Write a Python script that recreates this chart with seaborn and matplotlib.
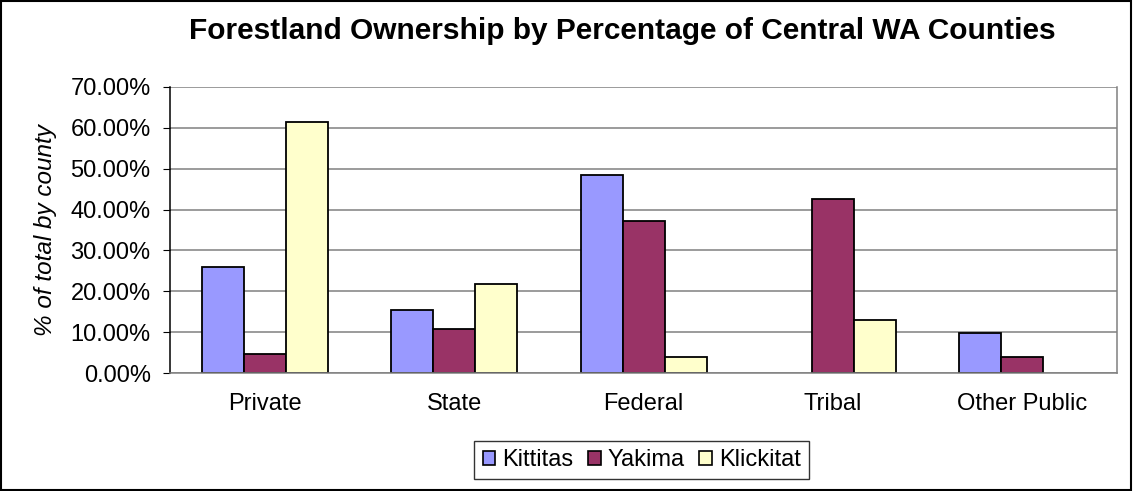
import matplotlib
matplotlib.use("Agg")
import matplotlib.pyplot as plt
import matplotlib.patches as mpatches
from matplotlib.ticker import FuncFormatter, FixedLocator
import seaborn as sns
import pandas as pd

# data (percent of county forestland)
categories = ["Private", "State", "Federal", "Tribal", "Other Public"]
counties = ["Kittitas", "Yakima", "Klickitat"]
kittitas = [25.9, 15.4, 48.5, 0.0, 9.9]
yakima = [4.8, 10.8, 37.3, 42.7, 4.0]
klickitat = [61.4, 21.8, 4.0, 13.1, 0.0]
colors = {"Kittitas": "#9999FF", "Yakima": "#993366", "Klickitat": "#FFFFCC"}

df = pd.DataFrame({
    "category": categories * 3,
    "county": [c for c in counties for _ in categories],
    "pct": kittitas + yakima + klickitat,
})

sns.set_style("white")
plt.rcParams["font.family"] = ["Liberation Sans", "DejaVu Sans"]
plt.rcParams["text.color"] = "black"
plt.rcParams["xtick.color"] = "black"
plt.rcParams["ytick.color"] = "black"
plt.rcParams["axes.labelcolor"] = "black"

fig = plt.figure(figsize=(11.34, 4.91), dpi=100)
ax = fig.add_axes([0.150, 0.240, 0.835, 0.583])

sns.barplot(data=df, x="category", y="pct", hue="county", order=categories,
            hue_order=counties, palette=colors, saturation=1, width=0.665,
            edgecolor="black", linewidth=1.3, errorbar=None, ax=ax)

# hide the outline of empty bars
for p in ax.patches:
    if p.get_height() == 0:
        p.set_linewidth(0)

ax.set_ylim(0, 70)
ax.set_xlim(-0.5, len(categories) - 0.5)
ax.set_yticks(range(0, 71, 10))
ax.yaxis.set_major_formatter(FuncFormatter(lambda v, p: f"{v:.2f}%"))
ax.grid(axis="y", color="#808080", linewidth=1.1)
ax.set_axisbelow(True)

# category boundary ticks like Excel
ax.tick_params(axis="x", which="major", length=0, pad=14.5, labelsize=17)
ax.xaxis.set_minor_locator(FixedLocator([i - 0.5 for i in range(len(categories) + 1)]))
ax.tick_params(axis="x", which="minor", length=6, color="black", direction="out")
ax.tick_params(axis="y", length=5, color="black", direction="out", pad=9, labelsize=17,
               left=True)

ax.spines["top"].set_visible(False)
ax.spines["left"].set_color("black")
ax.spines["bottom"].set_color("#808080")
ax.spines["right"].set_color("#808080")
for s in ax.spines.values():
    s.set_linewidth(1.1)

ax.set_xlabel("")
ax.set_ylabel("% of total by county", fontsize=17.5, fontstyle="italic", labelpad=10)

handles, labels = ax.get_legend_handles_labels()
ax.get_legend().remove()
for h in handles:
    h.set_edgecolor("black")
    h.set_linewidth(1.2)
leg = fig.legend(handles, labels, loc="center", bbox_to_anchor=(0.566, 0.063), ncol=3,
                 fontsize=17, frameon=True, fancybox=False, edgecolor="black",
                 handlelength=0.55, handleheight=0.55, handletextpad=0.3,
                 columnspacing=0.6, borderpad=0.35)
leg.get_frame().set_linewidth(1.0)

fig.suptitle("Forestland Ownership by Percentage of Central WA Counties",
             fontsize=21.5, fontweight="bold", x=0.549, y=0.936, va="center")

fig.patches.append(mpatches.Rectangle((0.001, 0.003), 0.996, 0.994, transform=fig.transFigure,
                                      fill=False, edgecolor="black", linewidth=1.5))

fig.savefig("out.png", dpi=100)
